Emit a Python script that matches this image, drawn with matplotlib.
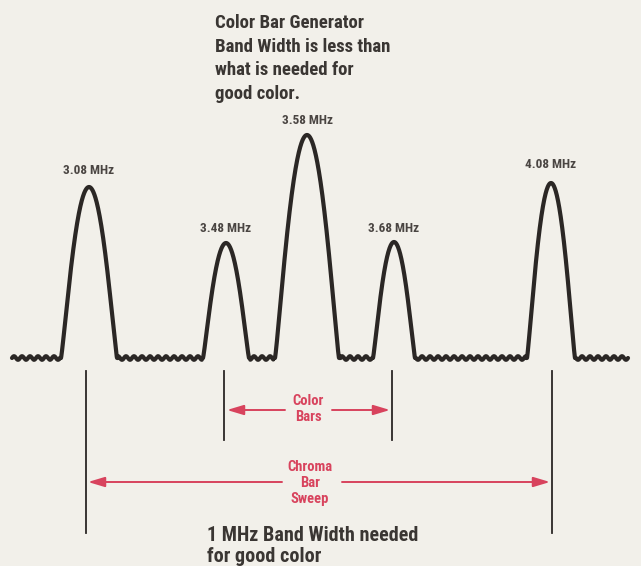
import numpy as np
import matplotlib
matplotlib.use("Agg")
import matplotlib.pyplot as plt

# ---- data ----
peak_labels = ["3.08 MHz", "3.48 MHz", "3.58 MHz", "3.68 MHz", "4.08 MHz"]
peak_pos = [89, 226, 307, 394, 551]          # horizontal position of each peak
peak_height = [171, 115, 223, 116, 175]      # height above the baseline
peak_halfwidth = [28, 23, 32, 21, 24]        # centre-to-foot half width
trace_start, trace_end = 12, 628
ripple_amp, ripple_period = 1.8, 8.0

bg = "#f2f0ea"
ink = "#2b2725"
red = "#d8435d"
font = ["Roboto Condensed", "DejaVu Sans"]

W, H = 641, 566
base_pix = 358
fig = plt.figure(figsize=(W / 100, H / 100), dpi=100, facecolor=bg)
ax = fig.add_axes([0, 0, 1, 1])
ax.set_facecolor(bg)
ax.set_xlim(0, W)
ax.set_ylim(base_pix - H, base_pix)   # y = height above baseline
ax.axis("off")

def Y(pix):
    return base_pix - pix

x = np.linspace(trace_start, trace_end, 4000)
y = np.zeros_like(x)
inpeak = np.zeros_like(x, dtype=bool)
for c, h, w in zip(peak_pos, peak_height, peak_halfwidth):
    u = (x - c) / w
    m = np.abs(u) < 1
    y[m] += h * (1 - u[m] ** 2) ** 1.2
    inpeak |= np.abs(u) < 1.05
y += np.where(inpeak, 0, ripple_amp * np.sin(2 * np.pi * (x - trace_start) / ripple_period))
ax.plot(x, y, color=ink, lw=3.0, solid_capstyle="round", solid_joinstyle="round")

# peak labels
label_y = [170, 228, 121, 228, 165]
for lab, c, ly in zip(peak_labels, peak_pos, label_y):
    ax.text(c, Y(ly), lab, ha="center", va="center", fontsize=9.5,
            family=font, weight="bold", color="#4a4542")

# vertical markers
marker_x = [86, 224, 392, 552]
marker_bottom = [533, 440, 440, 533]
for mx, mb in zip(marker_x, marker_bottom):
    ax.plot([mx, mx], [Y(371), Y(mb)], color=ink, lw=1.3)

def arrow(x0, x1, ypix):
    ax.annotate("", xy=(x1, Y(ypix)), xytext=(x0, Y(ypix)),
                arrowprops=dict(arrowstyle="-|>,head_length=1.0,head_width=0.3",
                                color=red, lw=1.4, shrinkA=0, shrinkB=0))

# Color Bars
arrow(285, 227, 410)
arrow(332, 390, 410)
ax.text(308, Y(409), "Color\nBars", ha="center", va="center", fontsize=10.5,
        family=font, weight="bold", color=red, linespacing=1.2)

# Chroma Bar Sweep
arrow(282, 88, 482)
arrow(342, 550, 482)
ax.text(310, Y(483), "Chroma\nBar\nSweep", ha="center", va="center", fontsize=10.5,
        family=font, weight="bold", color=red, linespacing=1.2)

# captions
ax.text(215, Y(14), "Color Bar Generator\nBand Width is less than\nwhat is needed for\ngood color.",
        ha="left", va="top", fontsize=13.5, family=font, weight="bold",
        color="#3a3633", linespacing=1.4)
ax.text(207, Y(526), "1 MHz Band Width needed\nfor good color",
        ha="left", va="top", fontsize=14.5, family=font, weight="bold",
        color="#3a3633", linespacing=1.1)

fig.savefig("out.png", dpi=100, facecolor=bg)
